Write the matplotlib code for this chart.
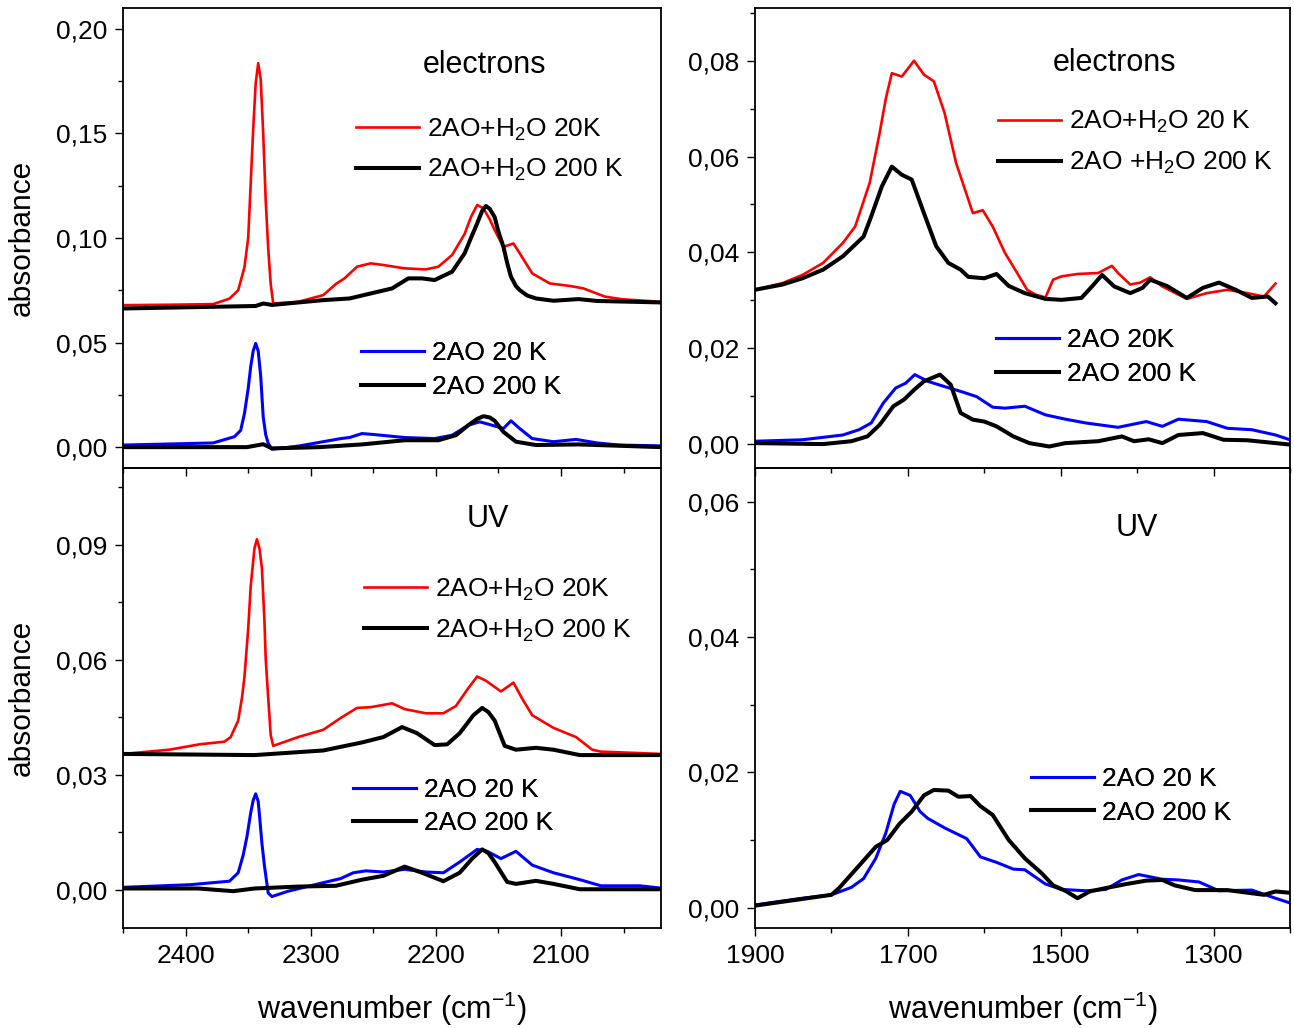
import matplotlib
matplotlib.use("Agg")
import matplotlib.pyplot as plt
from matplotlib.ticker import MultipleLocator, FixedLocator, FuncFormatter

plt.rcParams['font.family'] = ['Liberation Sans', 'DejaVu Sans']
plt.rcParams['mathtext.fontset'] = 'custom'
plt.rcParams['mathtext.rm'] = 'Liberation Sans'
plt.rcParams['mathtext.it'] = 'Liberation Sans:italic'
plt.rcParams['mathtext.default'] = 'regular'

# ---- electrons, 2AO + H2O / 2AO, CN / CO2 region ----
el_h2o_20_wn = [2450, 2413, 2378, 2365, 2358, 2353, 2350, 2348, 2346, 2344, 2342, 2340, 2338, 2336,
                2334, 2332, 2330, 2310, 2290, 2280, 2273, 2263, 2252, 2242, 2225, 2208, 2198, 2187,
                2177, 2172, 2167, 2162, 2157, 2153, 2146, 2138, 2133, 2123, 2109, 2092, 2082, 2065,
                2051, 2020]
el_h2o_20 = [0.0679, 0.0681, 0.0684, 0.071, 0.075, 0.086, 0.100, 0.126, 0.152, 0.174, 0.1836, 0.176,
             0.150, 0.118, 0.095, 0.078, 0.0687, 0.0695, 0.0727, 0.078, 0.0807, 0.0863, 0.0879, 0.0871,
             0.0855, 0.085, 0.0863, 0.0919, 0.102, 0.110, 0.1158, 0.1142, 0.109, 0.1038, 0.0958, 0.0974,
             0.0927, 0.0831, 0.0783, 0.077, 0.0759, 0.072, 0.0707, 0.0695]
el_h2o_200_wn = [2450, 2344, 2338, 2331, 2290, 2269, 2252, 2235, 2222, 2211, 2201, 2187, 2177, 2172,
                 2167, 2163, 2160, 2157, 2153, 2150, 2146, 2143, 2140, 2136, 2133, 2127, 2120, 2106,
                 2086, 2071, 2020]
el_h2o_200 = [0.0663, 0.0675, 0.0687, 0.068, 0.0703, 0.0711, 0.0735, 0.0759, 0.0807, 0.0807, 0.0799,
              0.0839, 0.0927, 0.100, 0.107, 0.113, 0.1153, 0.114, 0.110, 0.103, 0.0958, 0.088, 0.0815,
              0.077, 0.0751, 0.0725, 0.0711, 0.070, 0.0708, 0.0699, 0.0692]
el_ao_20_wn = [2450, 2378, 2361, 2356, 2353, 2350, 2348, 2346, 2344, 2342, 2340, 2338, 2336, 2334,
               2331, 2310, 2290, 2276, 2269, 2259, 2249, 2225, 2201, 2187, 2174, 2165, 2157, 2146,
               2140, 2133, 2123, 2106, 2088, 2071, 2054, 2020]
el_ao_20 = [0.001, 0.002, 0.005, 0.008, 0.016, 0.028, 0.0384, 0.046, 0.0496, 0.046, 0.034, 0.0145,
            0.006, 0.0018, -0.001, 0.0005, 0.0026, 0.0041, 0.0046, 0.0065, 0.006, 0.0046, 0.0041,
            0.0057, 0.0105, 0.0121, 0.0108, 0.0089, 0.0126, 0.0089, 0.0041, 0.0026, 0.0037, 0.002,
            0.001, 0.0006]
el_ao_200_wn = [2450, 2351, 2338, 2331, 2293, 2259, 2225, 2198, 2184, 2174, 2167, 2162, 2157, 2153,
                2146, 2136, 2120, 2086, 2020]
el_ao_200 = [0.0, 0.0, 0.0014, -0.0006, 0.0, 0.0013, 0.0033, 0.0033, 0.0057, 0.0105, 0.0135, 0.0148,
             0.0142, 0.0126, 0.0073, 0.0026, 0.001, 0.0013, 0.0]

# ---- UV, CN / CO2 region ----
uv_h2o_20_wn = [2450, 2413, 2389, 2369, 2364, 2358, 2355, 2353, 2350, 2348, 2345, 2343, 2341, 2339,
                2337, 2336, 2334, 2332, 2330, 2310, 2290, 2276, 2263, 2252, 2235, 2225, 2208, 2194,
                2184, 2174, 2167, 2160, 2148, 2138, 2131, 2123, 2106, 2088, 2075, 2068, 2020]
uv_h2o_20 = [0.0354, 0.0365, 0.0379, 0.0386, 0.0398, 0.0441, 0.050, 0.0554, 0.068, 0.0791, 0.089,
             0.0914, 0.089, 0.0838, 0.070, 0.0602, 0.050, 0.0403, 0.0375, 0.0398, 0.0417, 0.0448,
             0.0474, 0.0476, 0.0486, 0.0471, 0.046, 0.046, 0.0479, 0.0526, 0.0556, 0.0545, 0.0517,
             0.054, 0.0498, 0.0455, 0.0422, 0.0398, 0.0365, 0.036, 0.0354]
uv_h2o_200_wn = [2450, 2345, 2290, 2259, 2242, 2227, 2215, 2201, 2191, 2181, 2170, 2163, 2158, 2153,
                 2145, 2136, 2120, 2106, 2085, 2020]
uv_h2o_200 = [0.0354, 0.0351, 0.0363, 0.0384, 0.0398, 0.0424, 0.0408, 0.0377, 0.0379, 0.0408, 0.0455,
              0.0474, 0.0463, 0.0441, 0.0375, 0.0365, 0.037, 0.0365, 0.0351, 0.0351]
uv_ao_20_wn = [2450, 2396, 2365, 2358, 2354, 2351, 2348, 2346, 2344, 2342, 2341, 2339, 2337, 2334,
               2331, 2318, 2294, 2276, 2266, 2256, 2242, 2225, 2208, 2194, 2181, 2167, 2159, 2148,
               2136, 2123, 2106, 2085, 2068, 2037, 2020]
uv_ao_20 = [0.0006, 0.0013, 0.0022, 0.0044, 0.009, 0.0138, 0.020, 0.0233, 0.025, 0.023, 0.0195, 0.012,
            0.0062, -0.0009, -0.0018, -0.0004, 0.0015, 0.0029, 0.0044, 0.0049, 0.0046, 0.0053, 0.0046,
            0.0044, 0.0072, 0.0105, 0.01, 0.0081, 0.01, 0.0064, 0.0044, 0.0026, 0.001, 0.001, 0.0004]
uv_ao_200_wn = [2450, 2390, 2362, 2345, 2310, 2280, 2259, 2242, 2225, 2211, 2194, 2181, 2171, 2163,
                2158, 2153, 2143, 2136, 2120, 2106, 2085, 2020]
uv_ao_200 = [0.0003, 0.0003, -0.0004, 0.0003, 0.0008, 0.001, 0.0026, 0.0036, 0.006, 0.0044, 0.0022,
             0.0044, 0.0081, 0.0105, 0.0095, 0.0072, 0.002, 0.0015, 0.0023, 0.0015, 0.0001, 0.0001]

# ---- electrons, fingerprint region ----
el2_h2o_20_wn = [1900, 1864, 1838, 1811, 1785, 1769, 1750, 1737, 1729, 1721, 1708, 1692, 1679, 1666,
                 1652, 1637, 1615, 1602, 1589, 1573, 1557, 1544, 1533, 1520, 1510, 1499, 1478, 1451,
                 1433, 1425, 1409, 1396, 1383, 1367, 1335, 1309, 1282, 1256, 1234, 1219]
el2_h2o_20 = [0.0322, 0.0336, 0.0353, 0.0378, 0.042, 0.0454, 0.0545, 0.0649, 0.072, 0.0774, 0.0767,
              0.080, 0.0771, 0.0757, 0.0691, 0.0587, 0.0482, 0.0488, 0.0454, 0.0399, 0.0357, 0.0322,
              0.0312, 0.0306, 0.0343, 0.035, 0.0355, 0.0357, 0.0372, 0.0357, 0.0333, 0.0337, 0.0348,
              0.0329, 0.0303, 0.0315, 0.0322, 0.0315, 0.0308, 0.0335]
el2_h2o_200_wn = [1900, 1864, 1838, 1811, 1785, 1758, 1748, 1734, 1721, 1708, 1695, 1679, 1663, 1647,
                  1631, 1621, 1600, 1584, 1568, 1547, 1520, 1499, 1473, 1459, 1446, 1430, 1409, 1393,
                  1383, 1361, 1335, 1314, 1293, 1271, 1250, 1229, 1219]
el2_h2o_200 = [0.0322, 0.0333, 0.0346, 0.0364, 0.0392, 0.0433, 0.0475, 0.0538, 0.0579, 0.0562, 0.0552,
               0.0482, 0.0413, 0.0378, 0.0364, 0.0349, 0.0346, 0.0355, 0.033, 0.0315, 0.0303, 0.0301,
               0.0305, 0.0329, 0.0353, 0.0329, 0.0315, 0.0326, 0.0343, 0.033, 0.0305, 0.0326, 0.0337,
               0.0322, 0.0305, 0.0308, 0.0294]
el2_ao_20_wn = [1900, 1838, 1785, 1764, 1748, 1732, 1716, 1703, 1691, 1674, 1652, 1631, 1610, 1589,
                1573, 1547, 1520, 1494, 1467, 1425, 1388, 1367, 1346, 1309, 1282, 1250, 1219, 1200]
el2_ao_20 = [0.0006, 0.0009, 0.0019, 0.003, 0.0044, 0.0086, 0.0117, 0.0127, 0.0145, 0.0131, 0.012,
             0.011, 0.0099, 0.0077, 0.0075, 0.0079, 0.0061, 0.0052, 0.0044, 0.0035, 0.0047, 0.0037,
             0.0052, 0.0047, 0.0033, 0.003, 0.0019, 0.0009]
el2_ao_200_wn = [1900, 1811, 1774, 1753, 1737, 1719, 1705, 1692, 1679, 1658, 1644, 1631, 1615, 1600,
                 1584, 1562, 1541, 1515, 1494, 1451, 1420, 1404, 1385, 1367, 1346, 1314, 1287, 1256, 1200]
el2_ao_200 = [0.0002, 0.0, 0.0006, 0.0016, 0.004, 0.0079, 0.0093, 0.0113, 0.0131, 0.0145, 0.0124,
              0.0065, 0.0051, 0.0047, 0.0037, 0.0016, 0.0002, -0.0005, 0.0002, 0.0006, 0.0016, 0.0006,
              0.001, 0.0002, 0.0019, 0.0023, 0.0009, 0.0008, -0.0001]

# ---- UV, fingerprint region ----
uv2_ao_20_wn = [1900, 1838, 1800, 1774, 1758, 1742, 1729, 1718, 1710, 1697, 1684, 1674, 1652, 1623,
                1605, 1584, 1562, 1547, 1520, 1499, 1467, 1441, 1420, 1398, 1367, 1346, 1319, 1293,
                1250, 1219, 1200]
uv2_ao_20 = [0.0004, 0.0014, 0.0019, 0.003, 0.0043, 0.0073, 0.011, 0.0153, 0.0172, 0.0166, 0.0142,
             0.0132, 0.0118, 0.0102, 0.0075, 0.0067, 0.0057, 0.0056, 0.0035, 0.0027, 0.0025, 0.0027,
             0.0041, 0.0049, 0.0042, 0.0041, 0.0038, 0.0025, 0.0026, 0.0014, 0.0007]
uv2_ao_200_wn = [1900, 1800, 1790, 1764, 1742, 1727, 1711, 1695, 1679, 1666, 1647, 1634, 1618, 1605,
                 1589, 1568, 1547, 1525, 1510, 1494, 1478, 1462, 1441, 1414, 1388, 1367, 1351, 1324,
                 1282, 1234, 1219, 1200]
uv2_ao_200 = [0.0003, 0.0019, 0.0029, 0.0062, 0.009, 0.010, 0.0124, 0.0142, 0.0166, 0.0174, 0.0173,
              0.0164, 0.0165, 0.015, 0.0137, 0.010, 0.0073, 0.0051, 0.0033, 0.0025, 0.0014, 0.0024,
              0.0029, 0.0035, 0.004, 0.0041, 0.0033, 0.0026, 0.0026, 0.0019, 0.0024, 0.0022]

left_major = [2400, 2300, 2200, 2100]
left_minor = [2450, 2350, 2250, 2150, 2050]
right_major = [1900, 1700, 1500, 1300]
right_minor = [1800, 1600, 1400, 1200]

RED, BLUE, BLACK = '#ff0000', '#0000ff', '#000000'
LW_THIN, LW_BLUE, LW_THICK = 1.9, 2.2, 2.9


def comma(v, pos):
    if abs(v) < 1e-9:
        v = 0.0
    return f'{v:.2f}'.replace('.', ',')


def style_axes(ax, xlim, ylim, xmaj, xmin, ymaj, ymin, show_x):
    ax.set_xlim(*xlim)
    ax.set_ylim(*ylim)
    ax.xaxis.set_major_locator(FixedLocator(xmaj))
    ax.xaxis.set_minor_locator(FixedLocator(xmin))
    ax.yaxis.set_major_locator(MultipleLocator(ymaj))
    ax.yaxis.set_minor_locator(MultipleLocator(ymin))
    ax.yaxis.set_major_formatter(FuncFormatter(comma))
    ax.tick_params(which='both', direction='out', width=1.0, labelsize=19,
                   top=False, right=False)
    ax.tick_params(which='major', length=5.8, pad=5.5)
    ax.tick_params(which='minor', length=3.6)
    ax.tick_params(axis='x', labelbottom=show_x)
    for sp in ax.spines.values():
        sp.set_linewidth(1.3)
    ax.patch.set_visible(False)


def add_legend(ax, lines, labels, pos, spacing):
    leg = ax.legend(lines, labels, loc='center left', bbox_to_anchor=pos, frameon=False,
                    fontsize=19, handlelength=2.4, handletextpad=0.3, labelspacing=spacing,
                    borderpad=0, borderaxespad=0)
    ax.add_artist(leg)


fig = plt.figure(figsize=(12.94, 10.28), dpi=100)
ax_tl = fig.add_axes([0.0951, 0.5447, 0.4158, 0.4475])
ax_bl = fig.add_axes([0.0951, 0.0973, 0.4158, 0.4475])
ax_tr = fig.add_axes([0.5835, 0.5447, 0.4134, 0.4475])
ax_br = fig.add_axes([0.5835, 0.0973, 0.4134, 0.4475])

# electrons, left
r1, = ax_tl.plot(el_h2o_20_wn, el_h2o_20, color=RED, lw=LW_THIN)
k1, = ax_tl.plot(el_h2o_200_wn, el_h2o_200, color=BLACK, lw=LW_THICK)
b1, = ax_tl.plot(el_ao_20_wn, el_ao_20, color=BLUE, lw=LW_BLUE)
k2, = ax_tl.plot(el_ao_200_wn, el_ao_200, color=BLACK, lw=LW_THICK)
style_axes(ax_tl, (2450, 2020), (-0.01, 0.21), left_major, left_minor, 0.05, 0.025, False)
ax_tl.text(0.671, 0.876, 'electrons', transform=ax_tl.transAxes, ha='center', va='center', fontsize=22)
add_legend(ax_tl, [r1, k1], ['2AO+H$_2$O 20K', '2AO+H$_2$O 200 K'], (0.4325, 0.6915), 0.55)
add_legend(ax_tl, [b1, k2], ['2AO 20 K', '2AO 200 K'], (0.442, 0.213), 0.36)
ax_tl.set_ylabel('absorbance', fontsize=21.5)
ax_tl.yaxis.set_label_coords(-0.162, 0.5)

# UV, left
r2, = ax_bl.plot(uv_h2o_20_wn, uv_h2o_20, color=RED, lw=LW_THIN)
k3, = ax_bl.plot(uv_h2o_200_wn, uv_h2o_200, color=BLACK, lw=LW_THICK)
b2, = ax_bl.plot(uv_ao_20_wn, uv_ao_20, color=BLUE, lw=LW_BLUE)
k4, = ax_bl.plot(uv_ao_200_wn, uv_ao_200, color=BLACK, lw=LW_THICK)
style_axes(ax_bl, (2450, 2020), (-0.01, 0.11), left_major, left_minor, 0.03, 0.015, True)
ax_bl.text(0.678, 0.889, 'UV', transform=ax_bl.transAxes, ha='center', va='center', fontsize=22)
add_legend(ax_bl, [r2, k3], ['2AO+H$_2$O 20K', '2AO+H$_2$O 200 K'], (0.447, 0.691), 0.55)
add_legend(ax_bl, [b2, k4], ['2AO 20 K', '2AO 200 K'], (0.427, 0.264), 0.36)
ax_bl.set_ylabel('absorbance', fontsize=21.5)
ax_bl.yaxis.set_label_coords(-0.162, 0.5)
ax_bl.set_xlabel('wavenumber (cm$^{-1}$)', fontsize=22)
ax_bl.xaxis.set_label_coords(0.5, -0.135)

# electrons, right
r3, = ax_tr.plot(el2_h2o_20_wn, el2_h2o_20, color=RED, lw=LW_THIN)
k5, = ax_tr.plot(el2_h2o_200_wn, el2_h2o_200, color=BLACK, lw=LW_THICK)
b3, = ax_tr.plot(el2_ao_20_wn, el2_ao_20, color=BLUE, lw=LW_BLUE)
k6, = ax_tr.plot(el2_ao_200_wn, el2_ao_200, color=BLACK, lw=LW_THICK)
style_axes(ax_tr, (1900, 1200), (-0.005, 0.091), right_major, right_minor, 0.02, 0.01, False)
ax_tr.text(0.672, 0.881, 'electrons', transform=ax_tr.transAxes, ha='center', va='center', fontsize=22)
add_legend(ax_tr, [r3, k5], ['2AO+H$_2$O 20 K', '2AO +H$_2$O 200 K'], (0.454, 0.7076), 0.55)
add_legend(ax_tr, [b3, k6], ['2AO 20K', '2AO 200 K'], (0.4505, 0.2414), 0.36)

# UV, right
b4, = ax_br.plot(uv2_ao_20_wn, uv2_ao_20, color=BLUE, lw=LW_BLUE)
k7, = ax_br.plot(uv2_ao_200_wn, uv2_ao_200, color=BLACK, lw=LW_THICK)
style_axes(ax_br, (1900, 1200), (-0.003, 0.065), right_major, right_minor, 0.02, 0.01, True)
ax_br.text(0.713, 0.869, 'UV', transform=ax_br.transAxes, ha='center', va='center', fontsize=22)
add_legend(ax_br, [b4, k7], ['2AO 20 K', '2AO 200 K'], (0.515, 0.287), 0.36)
ax_br.set_xlabel('wavenumber (cm$^{-1}$)', fontsize=22)
ax_br.xaxis.set_label_coords(0.5, -0.135)

fig.savefig('out.png', dpi=100)
